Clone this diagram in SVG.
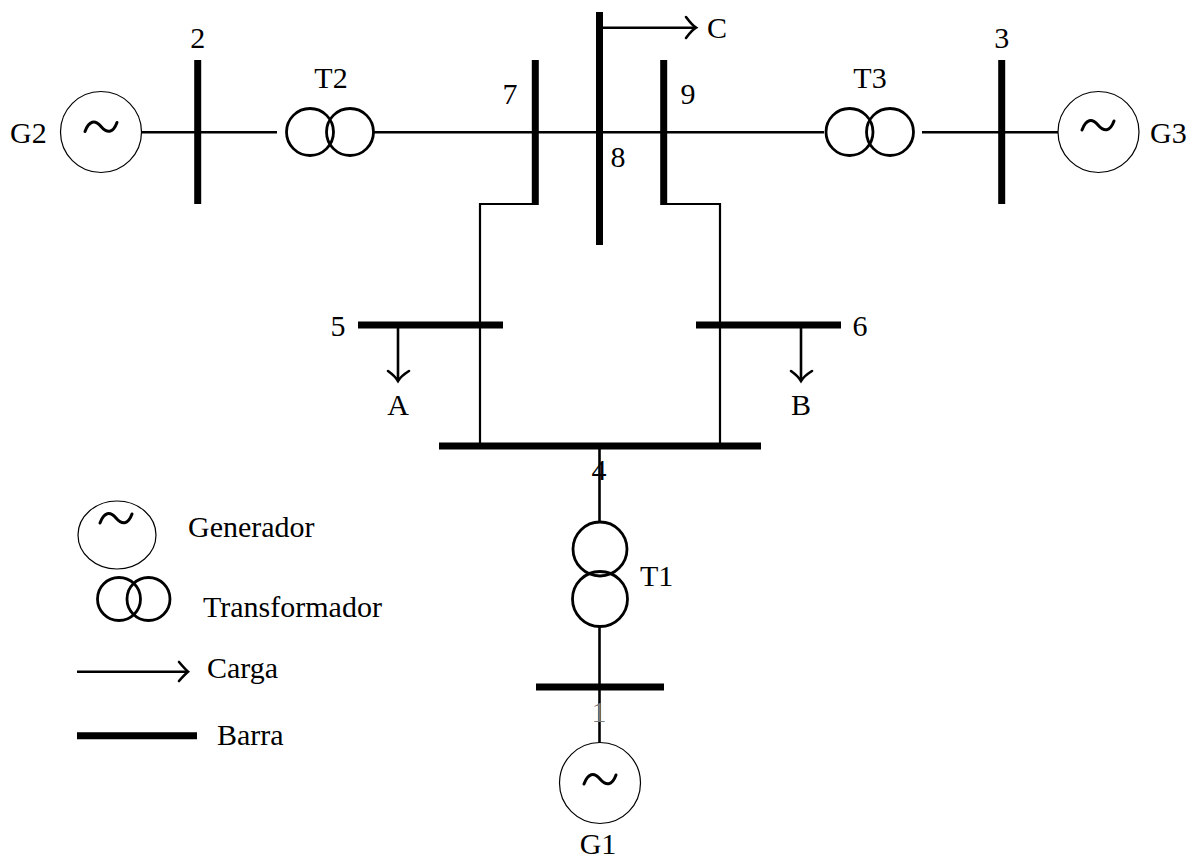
<svg xmlns="http://www.w3.org/2000/svg" width="1197" height="859" viewBox="0 0 1197 859">
<style>
text{font-family:"Liberation Serif","Times New Roman",serif;font-size:30px;fill:#000}
.c{text-anchor:middle}
.bus{stroke:#000;stroke-width:7;fill:none}
.ln{stroke:#000;stroke-width:2.6;fill:none}
.ln2{stroke:#000;stroke-width:2.2;fill:none}
.gen{stroke:#000;stroke-width:1.2;fill:#fff}
.tr{stroke:#000;stroke-width:2.8;fill:none}
.tl{stroke:#000;stroke-width:3;fill:none;stroke-linecap:round}
.ah{stroke:#000;stroke-width:2.6;fill:none;stroke-linecap:round}
</style>
<defs>
<path id="tilde" class="tl" d="M-16,4 C-12,-7 -6,-8 0,-1 C6,6 12,6 16,-5"/>
</defs>
<rect width="1197" height="859" fill="#fff"/>
<g id="connectors">
<line class="ln" x1="141" y1="132.3" x2="277" y2="132.3"/>
<line class="ln" x1="374" y1="132.3" x2="824" y2="132.3"/>
<line class="ln" x1="922" y1="132.3" x2="1058" y2="132.3"/>
<polyline class="ln2" points="535,204 480,204 480,446"/>
<polyline class="ln2" points="664,204 720,204 720,446"/>
<line class="ln" x1="599.5" y1="446" x2="599.5" y2="523"/>
<line class="ln" x1="599.5" y1="626" x2="599.5" y2="687"/>
<line class="ln" x1="599.5" y1="687" x2="599.5" y2="743"/>
<line class="ln" x1="599.5" y1="27.7" x2="695" y2="27.7"/>
<path class="ah" d="M686,17 Q692,25 696,27.7 Q692,30 686,38"/>
<line class="ln" x1="398" y1="325" x2="398" y2="380"/>
<path class="ah" d="M388,371 Q395,376 398,381 Q401,376 409,371"/>
<line class="ln" x1="801" y1="325" x2="801" y2="380"/>
<path class="ah" d="M791,371 Q798,376 801,381 Q804,376 812,371"/>
</g>
<g id="bus2"><line class="bus" x1="197.7" y1="60" x2="197.7" y2="204"/><text class="c" x="197.7" y="48">2</text></g>
<g id="bus3"><line class="bus" x1="1001.7" y1="60" x2="1001.7" y2="204"/><text class="c" x="1001.7" y="48">3</text></g>
<g id="bus7"><line class="bus" x1="535.3" y1="60" x2="535.3" y2="205"/><text class="c" x="510" y="104">7</text></g>
<g id="bus8"><line class="bus" x1="599.5" y1="12" x2="599.5" y2="245"/><text class="c" x="618" y="167">8</text></g>
<g id="bus9"><line class="bus" x1="663.7" y1="60" x2="663.7" y2="205"/><text class="c" x="688" y="104">9</text></g>
<g id="bus5"><line class="bus" x1="358" y1="325" x2="503" y2="325"/><text class="c" x="338" y="336">5</text></g>
<g id="bus6"><line class="bus" x1="696" y1="325" x2="841" y2="325"/><text class="c" x="860" y="336">6</text></g>
<g id="bus4"><line class="bus" x1="439" y1="446" x2="761" y2="446"/><text class="c" x="599" y="480">4</text></g>
<g id="bus1"><line class="bus" x1="536" y1="687" x2="664" y2="687"/><text class="c" x="599" y="722" style="fill:#777">1</text></g>
<g id="loadA"><text class="c" x="398" y="415">A</text></g>
<g id="loadB"><text class="c" x="801" y="415">B</text></g>
<g id="loadC"><text x="707" y="38">C</text></g>
<g id="G2"><circle class="gen" cx="101" cy="132" r="40.5"/><use href="#tilde" x="101" y="127.5"/><text x="10" y="143">G2</text></g>
<g id="G3"><circle class="gen" cx="1098.5" cy="132" r="40.5"/><use href="#tilde" x="1098" y="126"/><text x="1150" y="143">G3</text></g>
<g id="G1"><circle class="gen" cx="600" cy="783" r="40.5"/><use href="#tilde" x="600" y="780"/><text class="c" x="598" y="854">G1</text></g>
<g id="T2"><circle class="tr" cx="310" cy="132" r="23.5"/><circle class="tr" cx="350" cy="132" r="23.5"/><text class="c" x="331" y="88">T2</text></g>
<g id="T3"><circle class="tr" cx="849.5" cy="132" r="23.5"/><circle class="tr" cx="890" cy="132" r="23.5"/><text class="c" x="870" y="88">T3</text></g>
<g id="T1"><circle class="tr" cx="600" cy="549" r="27"/><circle class="tr" cx="600" cy="599" r="27.5"/><text x="640" y="586">T1</text></g>
<g id="legend">
<ellipse class="gen" cx="117" cy="535" rx="39" ry="34"/>
<use href="#tilde" x="116" y="519"/>
<text x="188" y="537">Generador</text>
<circle class="tr" cx="119" cy="599" r="21.5"/><circle class="tr" cx="148.5" cy="599" r="21.5"/>
<text x="203" y="617">Transformador</text>
<line class="ln" x1="77" y1="671.7" x2="187" y2="671.7"/>
<path class="ah" d="M179,662 Q185,669 188,671.7 Q185,674 179,681"/>
<text x="207" y="678">Carga</text>
<line class="bus" x1="77" y1="735.7" x2="197" y2="735.7"/>
<text x="217" y="745">Barra</text>
</g>
</svg>
